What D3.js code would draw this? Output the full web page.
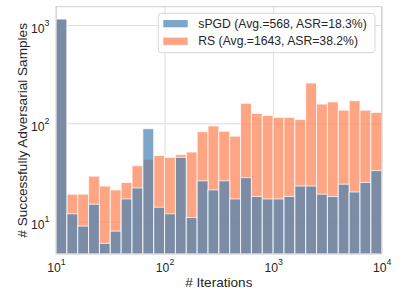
<!DOCTYPE html>
<html>
<head>
<meta charset="utf-8">
<script src="https://cdn.jsdelivr.net/npm/d3@7"></script>
<style>
  body { margin: 0; background: #fff; }
  svg { display: block; font-family: "Liberation Sans", Arial, sans-serif; }
</style>
</head>
<body>
<svg id="chart" width="399" height="299"></svg>
<script>
// histogram bins: 30 log-spaced bins between 10 and 10^4 (0.1 decade each)
var binExponents = d3.range(31).map(function(i) { return 1 + i / 10; });

// counts per bin
var spgdCounts = [1150, 12, 9, 15, 6, 8, 17, 22, 88, 14,
                  12, 45, 11, 26, 21, 26, 17, 28, 18, 17,
                  17, 18, 23, 23, 19, 18, 24, 20, 25, 33];
var rsCounts   = [1150, 19, 19, 29, 23, 21, 25, 37, 43, 47,
                  45, 48, 51, 82, 94, 83, 74, 160, 126, 120,
                  115, 115, 109, 257, 157, 165, 136, 170, 136, 129];

var seriesNames = ["sPGD (Avg.=568, ASR=18.3%)", "RS (Avg.=1643, ASR=38.2%)"];
var xTicks = [10, 100, 1000, 10000];
var yTicks = [10, 100, 1000];

var margin = {top: 6.7, right: 17.3, bottom: 45, left: 56};
var width = 399 - margin.left - margin.right,
    height = 299 - margin.top - margin.bottom;

var svg = d3.select("#chart");
var g = svg.append("g").attr("transform", "translate(" + margin.left + "," + margin.top + ")");

var x = d3.scaleLog().domain([10, 10000]).range([0, width]);
var y = d3.scaleLog().domain([4.68, 1535]).range([height, 0]);

// grid lines (seaborn whitegrid look)
g.append("g")
  .attr("class", "grid")
  .attr("transform", "translate(0," + height + ")")
  .call(d3.axisBottom(x).tickValues(xTicks).tickSize(-height).tickFormat(""))
  .call(function(s) { s.select(".domain").remove(); s.selectAll("line").attr("stroke", "#dcdcdc").attr("stroke-width", 1); });

g.append("g")
  .attr("class", "grid")
  .call(d3.axisLeft(y).tickValues(yTicks).tickSize(-width).tickFormat(""))
  .call(function(s) { s.select(".domain").remove(); s.selectAll("line").attr("stroke", "#dcdcdc").attr("stroke-width", 1); });

// bars - RS first, sPGD drawn on top
function drawBars(counts, color, cls) {
  g.selectAll("rect." + cls)
    .data(counts)
    .enter().append("rect")
    .attr("class", cls)
    .attr("x", function(d, i) { return x(Math.pow(10, binExponents[i])); })
    .attr("width", function(d, i) { return x(Math.pow(10, binExponents[i + 1])) - x(Math.pow(10, binExponents[i])); })
    .attr("y", function(d) { return y(d); })
    .attr("height", function(d) { return height - y(d); })
    .attr("fill", color)
    .attr("fill-opacity", 0.7)
    .attr("stroke", "#fff")
    .attr("stroke-opacity", 0.75)
    .attr("stroke-width", 1);
}
drawBars(rsCounts, "#ff7f50", "rs");
drawBars(spgdCounts, "#4682b4", "spgd");

// frame
g.append("rect")
  .attr("width", width).attr("height", height)
  .attr("fill", "none").attr("stroke", "#cfcfcf").attr("stroke-width", 1);

// tick labels with superscript exponents
function powerLabel(sel) {
  sel.each(function(d) {
    var t = d3.select(this).text("");
    t.append("tspan").text("10");
    t.append("tspan").attr("font-size", "8.8px").attr("dy", "-7").text(Math.round(Math.log10(d)));
  });
}

var xAxis = g.append("g")
  .attr("transform", "translate(0," + height + ")")
  .call(d3.axisBottom(x).tickValues(xTicks).tickSize(0).tickPadding(9.5));
xAxis.select(".domain").remove();
xAxis.selectAll("text")
  .attr("font-size", "12.2px").attr("font-family", "Liberation Sans, Arial, sans-serif").attr("fill", "#262626")
  .call(powerLabel);

var yAxis = g.append("g")
  .call(d3.axisLeft(y).tickValues(yTicks).tickSize(0).tickPadding(6.5));
yAxis.select(".domain").remove();
yAxis.selectAll("text")
  .attr("font-size", "12.2px").attr("font-family", "Liberation Sans, Arial, sans-serif").attr("fill", "#262626")
  .attr("dy", "0.6em")
  .call(powerLabel);

// axis titles
svg.append("text")
  .attr("x", margin.left + width / 2)
  .attr("y", 286.5)
  .attr("text-anchor", "middle")
  .attr("font-size", "13.6px")
  .attr("fill", "#262626")
  .text("# Iterations");

svg.append("text")
  .attr("transform", "translate(26.5," + (margin.top + height / 2) + ") rotate(-90)")
  .attr("text-anchor", "middle")
  .attr("font-size", "13.6px")
  .attr("fill", "#262626")
  .text("# Successfully Adversarial Samples");

// legend
var legend = svg.append("g").attr("transform", "translate(158.3,13.3)");
legend.append("rect")
  .attr("width", 216.7).attr("height", 39.4).attr("rx", 3)
  .attr("fill", "#fff").attr("fill-opacity", 0.8)
  .attr("stroke", "#d6d6d6").attr("stroke-width", 1);

var legendColors = ["#4682b4", "#ff7f50"];
seriesNames.forEach(function(name, i) {
  var row = legend.append("g").attr("transform", "translate(0," + (i * 17.6) + ")");
  row.append("rect")
    .attr("x", 5).attr("y", 6.7).attr("width", 24.4).attr("height", 7.3)
    .attr("fill", legendColors[i]).attr("fill-opacity", 0.7);
  row.append("text")
    .attr("x", 40).attr("y", 14.6)
    .attr("font-size", "12.2px").attr("fill", "#262626")
    .text(name);
});
</script>
</body>
</html>
